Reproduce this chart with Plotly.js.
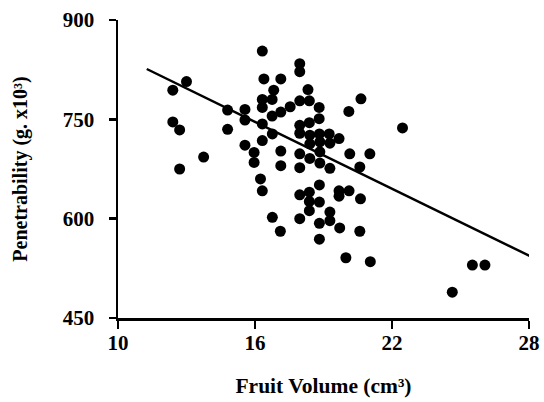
<!DOCTYPE html>
<html>
<head>
<meta charset="utf-8">
<script src="https://cdn.plot.ly/plotly-3.0.1.min.js"></script>
<style>html,body{margin:0;padding:0;background:#fff;}#chart{width:544px;height:402px;}</style>
</head>
<body>
<div id="chart"></div>
<script>
// Fruit volume (cm3) for each fruit
const fruitVolume = [
  12.4, 13.0, 12.4, 12.7, 12.7, 13.75, 14.8, 14.8, 15.56, 15.56,
  15.56, 15.96, 15.96, 16.24, 16.32, 16.32, 16.39, 16.32, 16.32, 16.32,
  16.32, 16.75, 16.82, 16.75, 16.76, 16.76, 17.13, 17.13, 17.13, 17.13,
  17.11, 17.54, 17.96, 17.96, 17.96, 17.96, 17.96, 17.96, 17.96, 17.96,
  17.96, 18.32, 18.38, 18.38, 18.40, 18.40, 18.40, 18.38, 18.38, 18.38,
  18.81, 18.81, 18.82, 18.84, 18.84, 18.84, 18.82, 18.82, 18.82, 18.82,
  19.25, 19.28, 19.28, 19.28, 19.28, 19.68, 19.68, 19.68, 19.71, 20.12,
  20.15, 20.11, 20.64, 20.59, 20.62, 20.59, 21.03, 19.98, 21.05, 22.46,
  25.52, 26.07, 24.64
];
// Penetrability (g x10^3) for each fruit
const penetrability = [
  794, 807, 746, 734, 675, 693, 764, 735, 765, 749,
  711, 700, 685, 660, 642, 853, 811, 780, 768, 743,
  718, 780, 794, 755, 728, 602, 811, 761, 702, 680,
  581, 769, 834, 822, 778, 741, 729, 698, 677, 636,
  600, 795, 778, 745, 726, 713, 691, 640, 626, 612,
  768, 751, 728, 716, 701, 684, 651, 625, 593, 569,
  728, 714, 676, 610, 597, 721, 642, 634, 586, 642,
  698, 762, 781, 678, 630, 581, 698, 541, 535, 737,
  530, 530, 489
];
// Regression line end points
const fitX = [11.26, 28.1];
const fitY = [826, 542.6];

const xTicks = [10, 16, 22, 28];
const yTicks = [450, 600, 750, 900];

const fontFam = 'Liberation Serif, Times New Roman, serif';

const traces = [
  {
    x: fitX, y: fitY, type: 'scatter', mode: 'lines',
    line: {color: '#000', width: 2.5}, hoverinfo: 'skip', showlegend: false,
    cliponaxis: false
  },
  {
    x: fruitVolume, y: penetrability, type: 'scatter', mode: 'markers',
    marker: {color: '#000', size: 11, line: {width: 0}}, showlegend: false,
    cliponaxis: false
  }
];

const layout = {
  width: 544, height: 402,
  margin: {l: 118, r: 15, t: 20, b: 84, pad: 0},
  paper_bgcolor: '#fff', plot_bgcolor: '#fff',
  font: {family: fontFam, color: '#000'},
  xaxis: {
    range: [10, 28], tickvals: xTicks, ticktext: xTicks.map(String),
    showline: true, linecolor: '#000', linewidth: 2.5,
    ticks: 'outside', ticklen: 8, tickwidth: 2.5, tickcolor: '#000',
    showgrid: false, zeroline: false, ticklabelstandoff: -4,
    tickfont: {family: fontFam, size: 21, weight: 'bold', color: '#000'},
    title: {text: 'Fruit Volume (cm³)', standoff: 24,
      font: {family: fontFam, size: 21.5, weight: 'bold', color: '#000'}}
  },
  yaxis: {
    range: [450, 900], tickvals: yTicks, ticktext: yTicks.map(String),
    showline: true, linecolor: '#000', linewidth: 2.5,
    ticks: 'outside', ticklen: 7, tickwidth: 2.5, tickcolor: '#000',
    showgrid: false, zeroline: false, ticklabelstandoff: 10,
    tickfont: {family: fontFam, size: 21, weight: 'bold', color: '#000'},
    title: {text: 'Penetrability (g. x10³)', standoff: 30,
      font: {family: fontFam, size: 20, weight: 'bold', color: '#000'}}
  }
};

Plotly.newPlot('chart', traces, layout, {staticPlot: true, displayModeBar: false});
</script>
</body>
</html>
